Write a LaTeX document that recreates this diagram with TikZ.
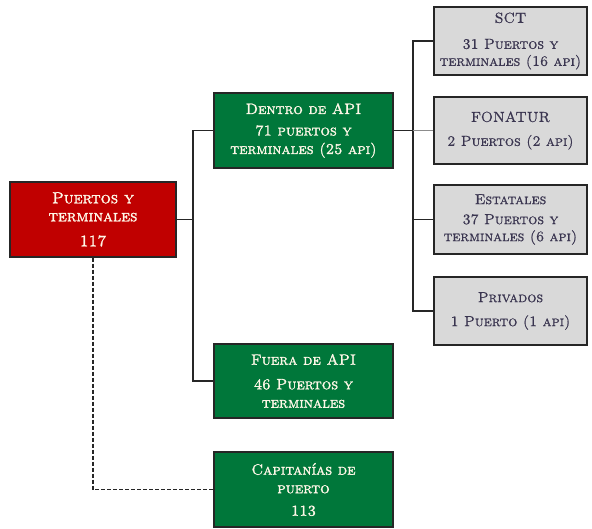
\documentclass[tikz,border=0pt]{standalone}
\usepackage{fontspec}
\newfontfamily\capsbold{lmromancaps10-regular.otf}[FakeBold=1.6]
\newfontfamily\capsmed{lmromancaps10-regular.otf}[FakeBold=0.9]
\definecolor{redbox}{HTML}{C00000}
\definecolor{greenbox}{HTML}{00773A}
\definecolor{graybox}{HTML}{D9D9D9}
\definecolor{graytext}{HTML}{3A3550}
\definecolor{lighttext}{HTML}{FFF8E8}
\begin{document}
\begin{tikzpicture}[x=1pt,y=-1pt,
  box/.style={draw=black!85,line width=1.1pt,rectangle,align=center,inner sep=0pt},
  redb/.style={box,fill=redbox,text=lighttext,minimum width=166pt,minimum height=75pt,font=\capsbold\fontsize{16}{18}\selectfont},
  greenb/.style={box,fill=greenbox,text=lighttext,minimum width=179pt,font=\capsbold\fontsize{15}{18.5}\selectfont},
  grayb/.style={box,fill=graybox,text=graytext,minimum width=153pt,font=\capsmed\fontsize{14.5}{17}\selectfont},
  conn/.style={line width=1.1pt,draw=black!85}]
\useasboundingbox (0,0) rectangle (592,529);
\node[redb] (root) at (93,219.5) {Puertos y\\terminales\\[7pt]117};
\node[greenb,minimum height=75pt] (dentro) at (303.5,130.5) {Dentro de API\\[3pt]71 puertos y\\terminales (25 api)};
\node[greenb,minimum height=74pt] (fuera) at (303.5,381) {Fuera de API\\[6pt]46 Puertos y\\terminales};
\node[greenb,minimum height=75pt] (cap) at (303.5,489.5) {Capitanías de\\puerto\\[4pt]113};
\node[grayb,minimum height=68pt] (sct) at (510.5,41) {SCT\\[9pt]31 Puertos y\\terminales (16 api)};
\node[grayb,minimum height=67pt] (fon) at (510.5,130.5) {FONATUR\\[7pt]2 Puertos (2 api)};
\node[grayb,minimum height=69pt] (est) at (510.5,219.5) {Estatales\\[3pt]37 Puertos y\\terminales (6 api)};
\node[grayb,minimum height=68pt] (priv) at (510.5,311) {Privados\\[7pt]1 Puerto (1 api)};
\coordinate (j1) at (193,219.5);
\coordinate (j2) at (413,130.5);
\draw[conn] (root.east) -- (j1);
\draw[conn] (dentro.west) -| (j1) |- (fuera.west);
\draw[conn] (dentro.east) -- (j2);
\draw[conn] (sct.west) -| (j2) |- (priv.west);
\draw[conn,draw=black!45] (j2) -- (fon.west);
\draw[conn] (est.west) -- (est.west -| j2);
\draw[conn,dashed,dash pattern=on 4pt off 2pt] (root.south) |- (cap.west);
\end{tikzpicture}
\end{document}
